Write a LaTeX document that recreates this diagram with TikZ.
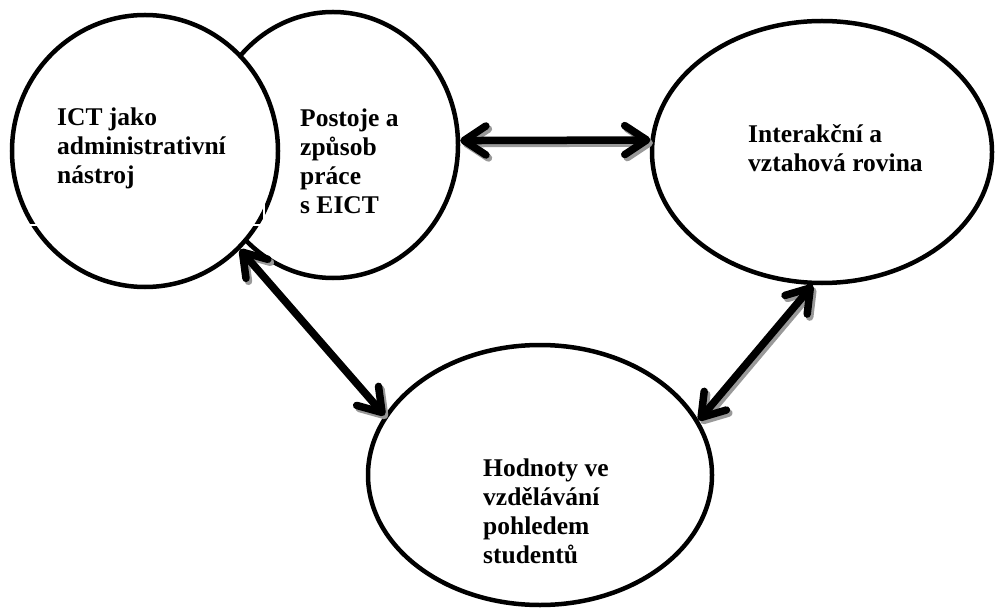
\documentclass[tikz,border=0pt]{standalone}
\usepackage{fontspec}
\setmainfont{Liberation Serif}
\usetikzlibrary{shapes.geometric,arrows.meta}
\begin{document}
\begin{tikzpicture}[x=1pt,y=-1pt,
  blob/.style={ellipse, draw=black, line width=4.5pt, inner sep=0pt, fill=white},
  lbl/.style={anchor=base west, align=left, inner sep=0pt, font=\bfseries\fontsize{25.5}{29}\selectfont},
  barb/.tip={Straight Barb[length=22pt, width=29pt, line cap=round, line join=round]},
  arr/.style={line width=7.5pt, line cap=round, barb-barb},
  arrshadow/.style={arr, draw=black!40, transform canvas={shift={(2.5pt,-3pt)}}},
]
\useasboundingbox (0,0) rectangle (995,612);
% circles
\node[blob, minimum width=250pt, minimum height=266pt] (post) at (333,145) {};
\node[blob, minimum width=266pt, minimum height=272pt] (ict) at (145,151) {};
\node[blob, minimum width=340pt, minimum height=262pt] (inter) at (822,152) {};
\node[blob, minimum width=344pt, minimum height=260pt] (hod) at (540,475) {};
% white cut marks across the left circle
\draw[white, line width=2pt] (28,225) -- (264,225) -- (264,200);
% labels
\node[lbl] (tict) at (57,184) {ICT jako\\administrativní\\nástroj};
\node[lbl] (tpost) at (300,214) {Postoje a\\způsob\\práce\\s EICT};
\node[lbl] (tinter) at (748,172) {Interakční a\\vztahová rovina};
\node[lbl] (thod) at (483,563) {Hodnoty ve\\vzdělávání\\pohledem\\studentů};
% arrows: shadows
\draw[arrshadow] (post.2) -- (inter.176.5);
\draw[arrshadow] (ict.-46) -- (hod.159);
\draw[arrshadow] (inter.-94) -- (hod.19);
% arrows
\draw[arr] (post.2) -- (inter.176.5);
\draw[arr] (ict.-46) -- (hod.159);
\draw[arr] (inter.-94) -- (hod.19);
\end{tikzpicture}
\end{document}
